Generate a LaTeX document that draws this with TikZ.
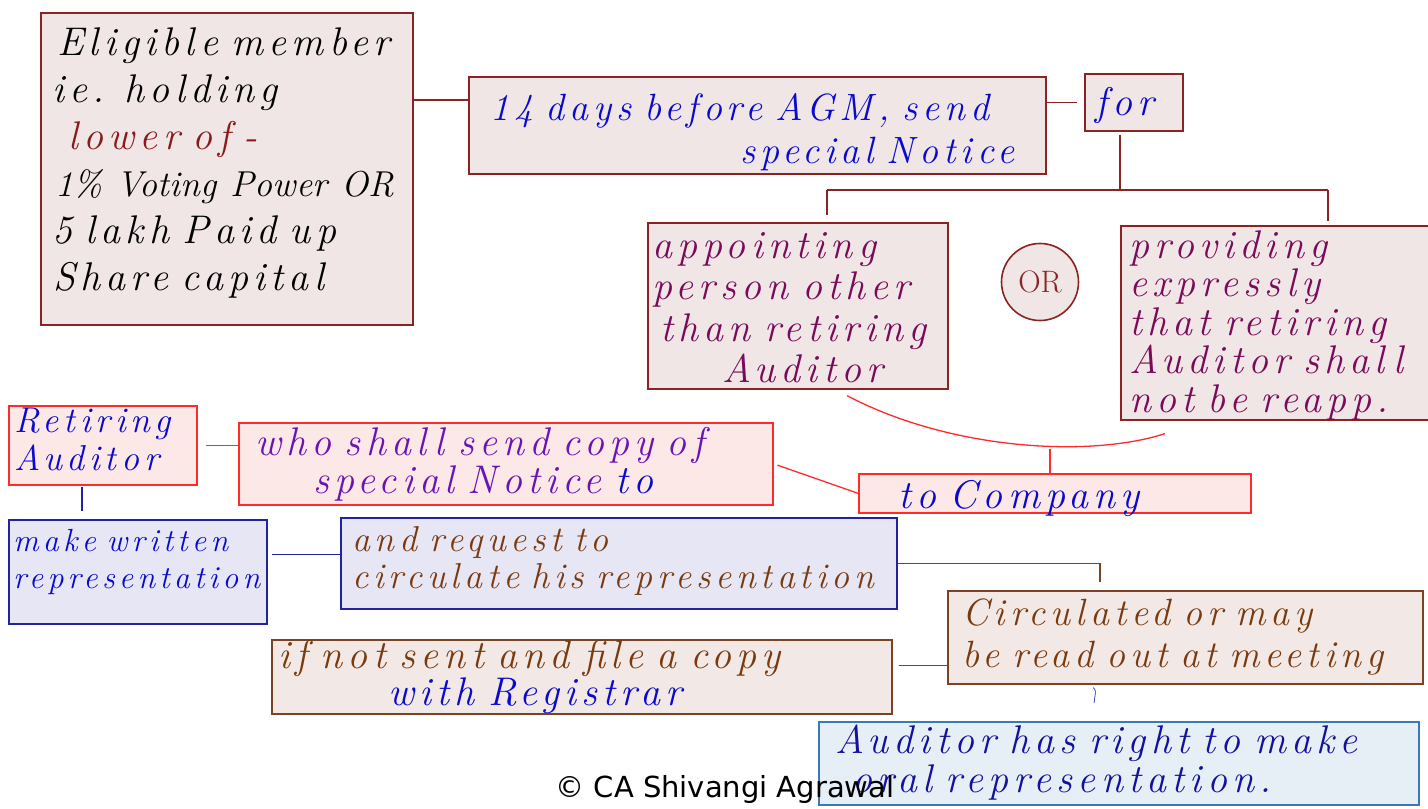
\documentclass[tikz,border=0pt]{standalone}
\usepackage{fontspec}
\setmainfont{Latin Modern Roman}
\newfontfamily\cprfont{DejaVu Sans}
\usetikzlibrary{calc}
\definecolor{drk}{HTML}{8B2323}
\definecolor{fillA}{HTML}{F0E6E6}
\definecolor{redB}{HTML}{FF2A2A}
\definecolor{fillR}{HTML}{FDE8E8}
\definecolor{navyB}{HTML}{2323A0}
\definecolor{fillL}{HTML}{E6E6F5}
\definecolor{brnB}{HTML}{7A4424}
\definecolor{fillB}{HTML}{F2E9E6}
\definecolor{skyB}{HTML}{3C78B4}
\definecolor{fillS}{HTML}{E6EEF6}
\definecolor{tblue}{HTML}{0A0ACD}
\definecolor{tpurp}{HTML}{7A0A5A}
\definecolor{tviolet}{HTML}{6A14B4}
\definecolor{tbrown}{HTML}{7B3A0E}
\definecolor{tnavy}{HTML}{12129E}
\definecolor{tlower}{HTML}{8B1A1A}
\newcommand\hwf[2]{\fontsize{#1}{#2}\selectfont\itshape\addfontfeature{LetterSpace=13}\spaceskip=0.48em plus 0.1em\relax}
\begin{document}
\begin{tikzpicture}[x=1pt,y=-1pt,
  boxbase/.style={draw, line width=1.6pt, inner sep=0pt, anchor=north west},
  boxA/.style={boxbase, draw=drk, fill=fillA},
  boxR/.style={boxbase, draw=redB, fill=fillR},
  boxL/.style={boxbase, draw=navyB, fill=fillL},
  boxB/.style={boxbase, draw=brnB, fill=fillB},
  boxS/.style={boxbase, draw=skyB, fill=fillS},
  hw/.style={inner sep=0pt, text width=700pt, align=left, anchor=base west},
  lnA/.style={draw=drk, line width=1.3pt},
  lnR/.style={draw=redB, line width=1.3pt},
  lnL/.style={draw=navyB, line width=1.3pt},
  lnB/.style={draw=brnB, line width=1.3pt}]
\useasboundingbox (0,0) rectangle (1428,809);

% boxes
\node[boxA, minimum width=372pt, minimum height=312pt] (b1) at (40,12) {};
\node[boxA, minimum width=577pt, minimum height=97pt] (b2) at (468,76) {};
\node[boxA, minimum width=98pt, minimum height=57pt] (b3) at (1084,73) {};
\node[boxA, minimum width=300pt, minimum height=166pt] (b4) at (647,222) {};
\node[boxA, circle, anchor=center, minimum size=77pt, text=drk,
      font=\fontsize{31}{31}\selectfont] (b5) at (1040,282) {OR};
\node[boxA, minimum width=330pt, minimum height=194pt] (b6) at (1120,225) {};
\node[boxR, minimum width=188pt, minimum height=79pt] (b7) at (8,405) {};
\node[boxR, minimum width=534pt, minimum height=82pt] (b8) at (238,422) {};
\node[boxR, minimum width=392pt, minimum height=39pt] (b9) at (858,473) {};
\node[boxL, minimum width=258pt, minimum height=104pt] (b10) at (8,519) {};
\node[boxL, minimum width=556pt, minimum height=91pt] (b11) at (340,517) {};
\node[boxB, minimum width=620pt, minimum height=74pt] (b12) at (271,639) {};
\node[boxB, minimum width=475pt, minimum height=93pt] (b13) at (947,590) {};
\node[boxS, minimum width=600pt, minimum height=83pt] (b14) at (818,721) {};

% texts
\node[hw, font=\hwf{40}{47}] (t1) at (52,55) {\hspace*{5pt}Eligible member\\
ie. holding\\
\hspace*{16pt}\textcolor{tlower}{lower of -}\\
\hspace*{3pt}{\fontsize{36}{47}\selectfont\addfontfeature{LetterSpace=0}\spaceskip=0.4em\relax 1\% Voting Power OR}\\
5 lakh Paid up\\
\hspace*{1pt}Share capital};
\node[hw, font=\hwf{38}{43}, text=tblue] (t2) at (490,120) {14 days before AGM, send\\
\hspace*{250pt}special Notice};
\node[hw, font=\hwf{40}{43}, text=tblue] (t3) at (1095,115) {for};
\node[hw, font=\hwf{40}{41.5}, text=tpurp] (t4) at (652,258) {appointing\\
person other\\
\hspace*{8pt}than retiring\\
\hspace*{70pt}Auditor};
\node[hw, font=\hwf{40}{38.5}, text=tpurp] (t6) at (1129,258) {providing\\
expressly\\
that retiring\\
Auditor shall\\
not be reapp.};
\node[hw, font=\hwf{36}{38}, text=tblue] (t7) at (14,432) {Retiring\\Auditor};
\node[hw, font=\hwf{40}{38}, text=tviolet] (t8) at (255,455) {who shall send copy of\\
\hspace*{58pt}special Notice \textcolor{tblue}{to}};
\node[hw, font=\hwf{40}{38}, text=tblue] (t9) at (898,508) {to Company};
\node[hw, font=\hwf{32}{37}, text=tblue] (t10) at (13,551) {make written\\representation};
\node[hw, font=\hwf{36}{37}, text=tbrown] (t11) at (352,551) {and request to\\circulate his representation};
\node[hw, font=\hwf{40}{37}, text=tbrown] (t12) at (278,668) {if not sent and file a copy\\
\hspace*{110pt}\textcolor{tblue}{with Registrar}};
\node[hw, font=\hwf{38}{42}, text=tbrown] (t13) at (962,625) {Circulated or may\\be read out at meeting};
\node[hw, font=\hwf{40}{39}, text=tnavy] (t14) at (835,753) {Auditor has right to make\\
\hspace*{17pt}oral representation.};
\node[inner sep=0pt, anchor=base, font=\cprfont\fontsize{29}{29}\selectfont] (cpr) at (725,797) {© CA Shivangi Agrawal};

% connectors
\path (b2.north west) ++(0,24) coordinate (c12);
\draw[lnA] (c12 -| b1.east) -- (c12);
\draw[lnA, shorten >=7pt] (b3.west -| b2.east) -- (b3.west);
\path (b3.south west) ++(36,3) coordinate (f1);
\coordinate (busL) at (827,190);
\coordinate (busR) at (1328,190);
\draw[lnA] (f1) -- (f1 |- busL);
\draw[lnA] (busL) -- (busR);
\draw[lnA, shorten >=7pt] (busL) -- (busL |- b4.north);
\draw[lnA, shorten >=4pt] (busR) -- (busR |- b6.north);
\path (b4.south west) ++(200,6) coordinate (a1);
\path (b6.south west) ++(45,13) coordinate (a2);
\draw[lnR] (a1) .. controls (950,450) and (1090,458) .. (a2);
\coordinate (cv) at (1050,449);
\draw[lnR] (cv) -- (cv |- b9.north);
\draw[lnR, shorten <=8pt] (b7.east) -- (b7.east -| b8.west);
\draw[lnR, shorten <=4pt] (b8.east) -- (b9.west);
\path (b7.south west) ++(74,1) coordinate (r1);
\draw[lnL, shorten >=8pt] (r1) -- (r1 |- b10.north);
\path (b10.east) ++(4,-17) coordinate (m1);
\draw[lnL] (m1) -- (m1 -| b11.west);
\path (b13.north west) ++(153,-8) coordinate (k1);
\draw[lnB] (b11.east) -| (k1);
\path (b12.east) ++(6,-11) coordinate (p1);
\draw[lnB] (p1) -- (p1 -| b13.west);
\path (b13.south west) ++(146,3) coordinate (q1);
\coordinate (q2) at (1094,703);
\draw[draw=tblue, line width=0.6pt] (q1) .. controls (1096,690) .. (q2);
\end{tikzpicture}
\end{document}
